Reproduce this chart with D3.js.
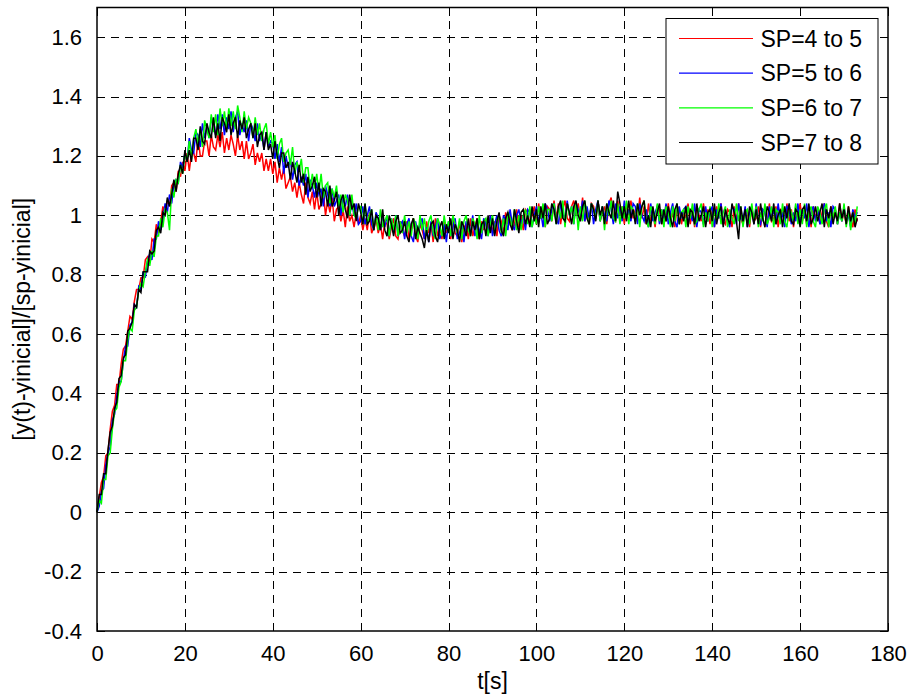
<!DOCTYPE html>
<html>
<head>
<meta charset="utf-8">
<script src="https://cdn.jsdelivr.net/npm/d3@7"></script>
<style>
  html, body { margin: 0; padding: 0; background: #fff; }
  svg { display: block; }
  text { font-family: "Liberation Sans", Arial, Helvetica, sans-serif; fill: #000; }
</style>
</head>
<body>
<svg id="chart" width="913" height="700"></svg>
<script>
// ---- data, one sample every 0.5 s, 20 samples per row ----
const seriesNames = ["SP=4 to 5", "SP=5 to 6", "SP=6 to 7", "SP=7 to 8"];
const seriesColors = ["#ff0000", "#0000ff", "#00ff00", "#000000"];
const time = d3.range(0, 173.5, 0.5); // sample instants, seconds

const sp4to5 = [
  0.00,0.05,0.10,0.12,0.19,0.20,0.28,0.34,0.36,0.43,0.43,0.50,0.55,0.56,0.61,0.66,0.65,0.71,0.75,0.75,
  0.79,0.79,0.85,0.86,0.84,0.92,0.91,0.97,0.94,0.98,1.03,1.00,1.05,1.03,1.10,1.11,1.08,1.15,1.13,1.18,
  1.15,1.21,1.15,1.21,1.21,1.18,1.26,1.20,1.20,1.25,1.25,1.20,1.27,1.23,1.22,1.27,1.23,1.28,1.21,1.26,
  1.22,1.27,1.24,1.20,1.27,1.22,1.25,1.19,1.25,1.19,1.21,1.24,1.17,1.21,1.18,1.21,1.15,1.19,1.15,1.19,
  1.14,1.18,1.11,1.16,1.12,1.16,1.09,1.11,1.13,1.08,1.11,1.06,1.11,1.07,1.04,1.11,1.06,1.04,1.08,1.02,
  1.08,1.02,1.04,1.08,1.00,1.05,1.01,1.06,0.98,1.02,1.03,0.98,1.02,0.96,1.03,0.98,1.00,0.96,1.01,0.97,
  1.00,0.95,0.99,0.95,1.01,0.94,0.96,0.99,0.94,0.97,0.92,0.98,0.97,0.92,0.96,0.99,0.93,0.92,0.98,0.95,
  0.93,0.98,0.92,0.96,0.99,0.93,0.91,0.97,0.95,0.92,0.98,0.94,0.97,0.91,0.99,0.93,0.96,0.92,0.98,0.94,
  0.97,0.92,0.99,0.94,0.93,0.98,0.91,0.96,0.97,0.92,0.99,0.93,0.96,0.99,0.92,0.98,0.95,0.99,0.94,1.00,
  0.94,0.98,0.93,1.00,0.98,0.94,1.01,0.97,1.00,0.95,0.97,1.02,0.96,1.00,0.95,1.02,1.01,0.97,1.00,1.03,
  0.97,1.04,0.99,1.02,0.96,1.03,1.02,0.98,1.05,0.99,1.04,0.97,1.02,1.05,0.99,0.98,1.03,1.05,1.00,1.04,
  0.99,1.06,0.98,1.02,0.97,1.04,1.03,0.99,1.05,0.98,1.01,1.03,0.97,1.04,1.06,0.99,0.98,1.05,1.00,1.03,
  0.97,1.04,1.00,1.05,0.99,1.02,0.98,1.06,0.99,1.03,0.97,1.04,0.98,1.01,0.96,1.03,1.02,0.97,1.01,0.98,
  1.04,0.98,1.01,0.96,1.03,1.02,0.97,1.01,0.99,1.04,0.97,1.02,0.96,1.03,1.00,0.98,1.04,0.99,1.02,0.97,
  1.02,0.96,1.03,0.99,1.04,0.98,0.97,1.02,1.01,0.96,1.03,0.98,1.04,0.99,0.97,1.02,1.01,0.96,1.03,0.98,
  0.99,1.03,0.96,1.02,1.01,0.97,1.04,0.98,0.99,1.03,0.96,1.02,1.01,0.97,1.04,0.98,1.02,0.96,1.03,0.99,
  1.04,0.98,1.01,0.97,1.02,0.96,1.03,0.99,1.02,0.97,1.01,1.04,0.98,0.96,1.03,0.99,1.02,0.97,1.04,0.98,
  1.01,0.97,1.03,0.99,0.96,1.02,0.98
];
const sp5to6 = [
  0.00,0.02,0.07,0.08,0.16,0.20,0.22,0.31,0.33,0.39,0.44,0.44,0.51,0.56,0.56,0.63,0.64,0.70,0.69,0.76,
  0.75,0.81,0.79,0.85,0.87,0.85,0.92,0.92,0.98,0.95,0.98,1.04,1.01,1.07,1.04,1.11,1.12,1.11,1.18,1.16,
  1.21,1.18,1.26,1.22,1.21,1.28,1.27,1.23,1.31,1.26,1.30,1.26,1.33,1.30,1.27,1.34,1.29,1.34,1.27,1.33,
  1.29,1.35,1.28,1.33,1.35,1.27,1.31,1.28,1.32,1.25,1.31,1.29,1.25,1.31,1.25,1.28,1.22,1.28,1.23,1.25,
  1.24,1.19,1.24,1.18,1.23,1.14,1.20,1.16,1.19,1.12,1.17,1.18,1.10,1.13,1.10,1.14,1.06,1.12,1.10,1.06,
  1.11,1.07,1.09,1.03,1.10,1.07,1.03,1.09,1.03,1.05,1.07,1.00,1.06,1.03,1.07,1.00,1.04,1.00,1.04,0.97,
  0.98,1.03,0.97,1.00,1.03,0.97,0.95,1.01,0.99,0.95,1.00,0.96,1.00,0.93,0.99,0.94,1.00,0.93,0.97,0.98,
  0.92,0.97,0.99,0.93,0.91,0.98,0.94,0.97,0.99,0.92,0.96,0.91,0.98,0.93,0.96,0.99,0.92,0.94,0.97,0.91,
  0.98,0.93,0.96,0.99,0.92,0.94,0.97,0.91,0.98,0.96,0.94,1.00,0.93,0.98,0.95,0.92,0.99,0.97,0.93,1.00,
  0.93,0.97,1.00,0.95,0.93,1.00,0.98,0.95,1.02,0.97,0.95,1.00,1.02,0.97,1.00,0.95,1.02,1.01,0.96,1.00,
  1.03,0.98,1.01,0.96,1.04,1.02,0.98,1.02,1.04,0.99,0.97,1.04,1.02,0.98,1.05,1.00,1.03,0.97,1.04,1.02,
  1.00,1.05,0.98,1.03,0.99,1.04,0.97,1.02,1.05,0.98,1.03,1.00,0.98,1.05,1.02,0.97,1.04,0.99,1.03,0.98,
  1.05,0.99,1.02,0.98,1.04,1.03,0.97,1.04,1.00,0.98,1.02,0.96,1.04,0.98,1.01,1.03,0.97,1.02,0.99,1.04,
  0.97,1.01,1.04,0.98,0.96,1.03,0.99,1.02,1.03,0.97,1.01,0.98,1.04,0.96,1.02,1.01,0.97,1.03,0.98,1.01,
  1.03,0.96,1.02,0.99,1.04,0.97,1.01,0.98,0.96,1.03,1.02,0.97,1.04,0.99,0.98,1.03,0.96,1.01,1.02,0.97,
  1.04,0.98,0.97,1.02,1.01,0.96,1.03,0.99,1.02,0.97,1.04,0.98,1.01,0.96,1.03,1.02,0.97,1.01,0.98,1.04,
  0.97,1.02,0.99,1.04,0.96,1.01,1.03,0.98,1.02,0.97,0.99,1.04,0.98,1.01,0.96,1.03,1.02,0.97,1.01,0.98,
  1.03,0.98,1.00,0.96,1.02,0.99,1.01
];
const sp6to7 = [
  0.00,0.04,0.03,0.11,0.11,0.19,0.20,0.28,0.34,0.35,0.42,0.44,0.51,0.51,0.58,0.62,0.61,0.68,0.69,0.75,
  0.77,0.76,0.81,0.85,0.83,0.88,0.86,0.93,0.93,0.99,0.96,1.02,1.01,0.95,1.09,1.06,1.12,1.11,1.17,1.14,
  1.21,1.18,1.25,1.19,1.26,1.29,1.24,1.29,1.23,1.32,1.29,1.26,1.34,1.28,1.34,1.27,1.36,1.30,1.35,1.29,
  1.36,1.30,1.35,1.29,1.37,1.33,1.28,1.35,1.29,1.33,1.31,1.26,1.33,1.27,1.31,1.25,1.29,1.31,1.24,1.28,
  1.23,1.27,1.19,1.24,1.26,1.18,1.21,1.22,1.17,1.23,1.14,1.18,1.15,1.19,1.11,1.16,1.16,1.09,1.14,1.09,
  1.14,1.08,1.14,1.06,1.10,1.11,1.04,1.09,1.06,1.10,1.03,1.07,1.01,1.07,1.05,1.00,1.07,1.00,0.99,1.03,
  1.03,0.97,1.04,0.97,1.00,1.02,0.95,1.00,0.95,1.02,0.96,0.98,1.00,0.93,0.99,0.95,1.00,0.93,0.98,0.94,
  1.00,0.94,0.98,0.93,0.99,0.97,0.92,1.00,0.95,0.99,0.93,0.98,1.00,0.94,0.92,0.99,0.97,0.93,1.00,0.95,
  0.98,0.93,1.00,0.97,0.94,0.99,0.92,0.98,1.00,0.95,0.93,0.99,0.97,0.92,1.00,0.94,0.98,0.99,0.93,0.97,
  1.00,0.94,0.98,1.00,0.94,0.99,0.93,1.01,0.99,0.96,1.02,0.95,1.00,0.95,1.00,1.02,0.97,1.03,0.96,1.00,
  0.97,1.03,0.99,1.04,0.96,1.02,1.02,0.98,1.04,0.97,1.03,0.99,1.05,0.96,1.04,1.00,1.03,0.97,1.04,0.95,
  1.03,0.98,1.05,1.00,0.97,1.04,1.02,0.99,1.05,0.98,1.03,0.95,1.04,1.00,1.05,0.99,0.98,1.04,0.97,1.03,
  0.99,1.05,0.97,1.03,1.02,0.98,1.04,0.96,1.03,1.05,0.98,0.96,1.03,1.01,0.97,1.04,0.98,1.02,0.96,1.03,
  1.01,0.96,1.03,0.98,1.04,0.97,1.01,1.02,0.96,1.03,0.99,1.04,0.97,0.98,1.02,1.04,0.96,1.01,0.98,1.03,
  0.96,1.02,0.98,1.04,0.97,1.01,1.03,0.96,1.02,0.99,0.97,1.04,0.98,1.03,0.96,1.01,1.02,0.97,1.04,0.98,
  1.03,0.96,1.01,0.98,1.04,0.97,0.99,1.03,0.96,1.02,1.01,0.97,1.04,0.98,0.96,1.03,1.01,0.98,1.04,0.97,
  1.02,0.97,1.04,0.96,1.01,1.03,0.98,0.96,1.03,1.01,0.97,1.02,1.04,0.96,1.02,0.99,1.03,0.97,1.01,0.98,
  1.04,0.96,1.02,0.95,1.01,0.97,1.03
];
const sp7to8 = [
  0.00,0.06,0.06,0.13,0.13,0.21,0.27,0.29,0.35,0.37,0.45,0.46,0.52,0.53,0.61,0.62,0.64,0.70,0.69,0.75,
  0.74,0.81,0.81,0.81,0.88,0.87,0.88,0.95,0.96,0.94,1.01,1.00,1.06,1.03,1.07,1.12,1.08,1.14,1.17,1.14,
  1.22,1.18,1.22,1.18,1.26,1.26,1.22,1.30,1.25,1.24,1.31,1.28,1.26,1.33,1.26,1.31,1.25,1.33,1.31,1.28,
  1.34,1.27,1.31,1.33,1.26,1.32,1.29,1.33,1.26,1.29,1.31,1.26,1.31,1.23,1.27,1.28,1.22,1.28,1.22,1.24,
  1.19,1.25,1.20,1.16,1.21,1.21,1.16,1.18,1.12,1.18,1.15,1.11,1.17,1.11,1.14,1.07,1.13,1.08,1.10,1.13,
  1.06,1.11,1.03,1.09,1.08,1.03,1.10,1.03,1.05,1.08,1.00,1.05,1.07,1.02,0.99,1.07,1.02,1.04,0.98,1.04,
  1.01,0.97,1.04,0.97,0.98,1.02,0.95,1.00,0.99,0.95,1.02,0.95,0.93,1.00,0.97,0.93,0.98,1.00,0.94,0.95,
  0.98,0.93,0.91,0.97,0.99,0.92,0.96,0.94,0.92,0.89,0.95,0.91,0.97,0.98,0.93,0.91,0.96,0.98,0.92,0.97,
  0.94,0.99,0.92,0.97,0.95,0.91,0.98,0.96,0.93,0.99,0.93,0.98,0.95,0.99,0.92,0.97,0.98,0.93,1.00,0.94,
  0.99,0.93,0.98,1.01,0.95,0.93,0.99,1.01,0.97,0.95,1.02,0.98,0.94,1.01,1.02,0.97,1.00,0.96,1.03,0.98,
  1.02,0.96,1.03,0.99,1.04,0.97,0.99,1.04,1.02,0.97,1.03,1.05,0.99,0.98,1.04,1.01,0.97,1.03,1.05,1.00,
  0.98,1.03,1.05,0.99,0.97,1.04,1.02,0.98,1.05,1.00,1.03,0.97,1.04,1.01,0.99,1.05,0.98,1.08,1.04,0.99,
  1.03,0.98,1.05,0.99,1.02,0.97,1.04,1.00,1.03,1.05,0.97,1.00,0.96,1.03,0.98,1.01,1.04,0.97,1.02,0.98,
  1.03,0.99,0.96,1.02,1.04,0.97,1.01,0.98,1.03,0.96,1.02,1.01,0.97,1.04,0.98,1.00,1.03,0.96,1.01,1.02,
  0.98,1.04,0.97,1.01,1.03,0.96,1.02,0.99,0.97,1.04,1.01,0.98,0.92,1.03,0.98,1.02,0.96,1.03,1.01,0.97,
  1.02,0.97,1.04,0.99,0.96,1.03,1.01,0.98,1.04,0.97,1.00,1.02,0.96,1.03,0.99,1.04,0.98,0.97,1.02,1.01,
  0.96,1.02,1.03,0.98,1.04,0.97,0.99,1.03,0.98,1.01,1.04,0.96,1.02,0.99,1.03,0.97,1.01,0.98,1.04,0.99,
  1.02,0.97,1.03,0.98,1.01,0.96,0.99
];
const seriesValues = [sp4to5, sp5to6, sp6to7, sp7to8];

const xTicks = [0, 20, 40, 60, 80, 100, 120, 140, 160, 180];
const xTickLabels = ["0", "20", "40", "60", "80", "100", "120", "140", "160", "180"];
const yTicks = [-0.4, -0.2, 0, 0.2, 0.4, 0.6, 0.8, 1, 1.2, 1.4, 1.6];
const yTickLabels = ["-0.4", "-0.2", "0", "0.2", "0.4", "0.6", "0.8", "1", "1.2", "1.4", "1.6"];
const xLabel = "t[s]";
const yLabel = "[y(t)-yinicial]/[sp-yinicial]";

// ---- layout ----
const svg = d3.select("#chart");
const plot = { left: 97, right: 888, top: 7.5, bottom: 631 };
const x = d3.scaleLinear().domain([0, 180]).range([plot.left, plot.right]);
const y = d3.scaleLinear().domain([-0.4, 1.7]).range([plot.bottom, plot.top]);

const tickFont = 22;
const labelFont = 23;

// grid
const grid = svg.append("g").attr("class", "grid")
  .attr("stroke", "#000").attr("stroke-width", 1).attr("stroke-dasharray", "8,6")
  .attr("shape-rendering", "crispEdges");
grid.selectAll("line.gx").data(xTicks.filter(d => d > 0 && d < 180)).enter().append("line")
  .attr("x1", d => Math.round(x(d)) + 0.5).attr("x2", d => Math.round(x(d)) + 0.5)
  .attr("y1", plot.bottom).attr("y2", plot.top);
grid.selectAll("line.gy").data(yTicks.filter(d => d > -0.4)).enter().append("line")
  .attr("y1", d => Math.round(y(d)) + 0.5).attr("y2", d => Math.round(y(d)) + 0.5)
  .attr("x1", plot.left).attr("x2", plot.right);

// series
const line = d3.line().x(d => x(d[0])).y(d => y(d[1]));
const lines = svg.append("g").attr("class", "series");
seriesValues.forEach((vals, i) => {
  lines.append("path")
    .datum(time.map((t, k) => [t, vals[k]]))
    .attr("fill", "none")
    .attr("stroke", seriesColors[i])
    .attr("stroke-width", 1.5)
    .attr("stroke-linejoin", "miter")
    .attr("d", line);
});

// axes (MATLAB style box with inward ticks)
const tickLen = 8;
const xAxisB = d3.axisBottom(x).tickValues(xTicks).tickFormat((d, i) => xTickLabels[i])
  .tickSizeInner(-tickLen).tickSizeOuter(0).tickPadding(tickLen + 6);
const xAxisT = d3.axisTop(x).tickValues(xTicks).tickFormat("")
  .tickSizeInner(-tickLen).tickSizeOuter(0);
const yAxisL = d3.axisLeft(y).tickValues(yTicks).tickFormat((d, i) => yTickLabels[i])
  .tickSizeInner(-tickLen).tickSizeOuter(0).tickPadding(tickLen + 7);
const yAxisR = d3.axisRight(y).tickValues(yTicks).tickFormat("")
  .tickSizeInner(-tickLen).tickSizeOuter(0);

function styleAxis(g) {
  g.select(".domain").remove();
  g.selectAll(".tick line").attr("stroke", "#000").attr("stroke-width", 1)
    .attr("shape-rendering", "crispEdges");
  g.selectAll(".tick text").attr("font-size", tickFont)
    .attr("font-family", "'Liberation Sans', Arial, sans-serif").attr("fill", "#000");
}
svg.append("g").attr("transform", `translate(0,${plot.bottom})`).call(xAxisB).call(styleAxis);
svg.append("g").attr("transform", `translate(0,${plot.top})`).call(xAxisT).call(styleAxis);
svg.append("g").attr("transform", `translate(${plot.left},0)`).call(yAxisL).call(styleAxis);
svg.append("g").attr("transform", `translate(${plot.right},0)`).call(yAxisR).call(styleAxis);

// frame
svg.append("rect")
  .attr("x", plot.left).attr("y", plot.top)
  .attr("width", plot.right - plot.left).attr("height", plot.bottom - plot.top)
  .attr("fill", "none").attr("stroke", "#000").attr("stroke-width", 1.5);

// axis labels
svg.append("text").attr("x", (plot.left + plot.right) / 2).attr("y", 689)
  .attr("text-anchor", "middle").attr("font-size", labelFont).text(xLabel);
svg.append("text").attr("transform", `translate(30,${(plot.top + plot.bottom) / 2}) rotate(-90)`)
  .attr("text-anchor", "middle").attr("font-size", labelFont).text(yLabel);

// legend
const leg = { x: 666, y: 18.5, w: 212, h: 145.5 };
const lg = svg.append("g").attr("class", "legend");
lg.append("rect").attr("x", leg.x).attr("y", leg.y).attr("width", leg.w).attr("height", leg.h)
  .attr("fill", "#fff").attr("stroke", "#000").attr("stroke-width", 1);
const rowY = d3.scaleLinear().domain([0, 3]).range([38.5, 142.5]);
seriesNames.forEach((name, i) => {
  lg.append("line").attr("x1", 679).attr("x2", 753)
    .attr("y1", rowY(i)).attr("y2", rowY(i))
    .attr("stroke", seriesColors[i]).attr("stroke-width", 1.2);
  lg.append("text").attr("x", 760.5).attr("y", rowY(i) + 8)
    .attr("font-size", labelFont).text(name);
});
</script>
</body>
</html>
